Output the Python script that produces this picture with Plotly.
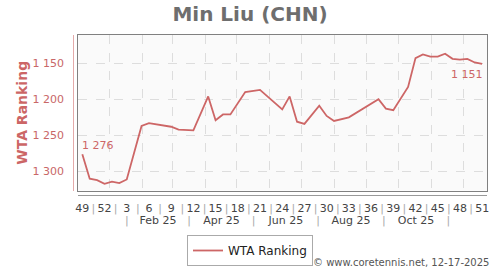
import datetime as dt
import plotly.graph_objects as go

# ---------------- data ----------------
start_date = dt.datetime(2024, 12, 6)
week_offset = [0, 1, 2, 3, 4, 5, 6, 8, 9, 10, 12, 13, 15, 17, 18, 19, 20, 22, 24, 27,
               28, 29, 30, 32, 33, 34, 36, 40, 41, 42, 44, 45, 46, 47, 48, 49, 50, 51, 52, 53, 54]
ranking = [1276, 1310, 1312, 1317, 1314, 1316, 1311, 1237, 1233, 1235, 1238, 1242, 1243, 1196,
           1229, 1221, 1221, 1190, 1187, 1214, 1196, 1231, 1234, 1209, 1223, 1230, 1225, 1200,
           1213, 1215, 1183, 1143, 1138, 1141, 1141, 1137, 1144, 1145, 1144, 1149, 1151]
week_tick_offsets = list(range(0, 55, 3))
week_tick_labels = ["49", "52", "3", "6", "9", "12", "15", "18", "21", "24", "27", "30",
                    "33", "36", "39", "42", "45", "48", "51"]
period_bounds = ["2025-01-17", "2025-03-17", "2025-05-17", "2025-07-17", "2025-09-17", "2025-11-17"]
period_labels = ["Feb 25", "Apr 25", "Jun 25", "Aug 25", "Oct 25"]
y_ticks = [1150, 1200, 1250, 1300]

# ---------------- helpers ----------------
def wk(o):
    return start_date + dt.timedelta(days=7 * o)

def fmt(v):
    return f"{v:,}".replace(",", " ")

dates = [wk(o) for o in week_offset]
x_range = [start_date - dt.timedelta(days=3.8), wk(54) + dt.timedelta(days=4.6)]
y_range = [1326.4, 1111]

LINE = "#cd6666"
FONT = "DejaVu Sans"
SEP = '<span style="color:#aaaaaa">|</span>'

# week row ticks with separators
wk_vals, wk_text = [], []
for k, (o, lab) in enumerate(zip(week_tick_offsets, week_tick_labels)):
    wk_vals.append(wk(o)); wk_text.append(lab)
    if k < len(week_tick_offsets) - 1:
        wk_vals.append(wk(o + 1.5)); wk_text.append(SEP)

# period row ticks
pb = [dt.datetime.fromisoformat(s) for s in period_bounds]
pr_vals, pr_text = [], []
for k, b in enumerate(pb):
    pr_vals.append(b); pr_text.append(SEP)
    if k < len(period_labels):
        pr_vals.append(b + (pb[k + 1] - b) / 2); pr_text.append(period_labels[k])

fig = go.Figure()
fig.add_trace(go.Scatter(x=dates, y=ranking, mode="lines", name="WTA Ranking",
                         line=dict(color=LINE, width=1.8), xaxis="x", yaxis="y"))
# invisible helpers for the overlay axes
fig.add_trace(go.Scatter(x=dates, y=ranking, mode="lines", showlegend=False, hoverinfo="skip",
                         line=dict(width=0), opacity=0, xaxis="x2", yaxis="y2"))
fig.add_trace(go.Scatter(x=dates, y=ranking, mode="lines", showlegend=False, hoverinfo="skip",
                         line=dict(width=0), opacity=0, xaxis="x3", yaxis="y2"))

W, H = 500, 270
ml, mr, mt, mb = 70, 13, 35, 75
pw, ph = W - ml - mr, H - mt - mb
xdom0 = 8.3 / pw
ydom0 = 4.4 / ph

fig.update_layout(
    width=W, height=H,
    margin=dict(l=ml, r=mr, t=mt, b=mb, pad=0, autoexpand=False),
    paper_bgcolor="white", plot_bgcolor="#fafafa",
    font=dict(family=FONT, size=11, color="#444"),
    title=dict(text="Min Liu (CHN)", x=0.5, xref="container", xanchor="center",
               y=1 - 13.5 / H, yref="container", yanchor="middle",
               font=dict(family=FONT, size=20, color="#6e6e6e", weight="bold")),
    xaxis=dict(type="date", domain=[xdom0, 1], anchor="y", range=x_range, automargin=False,
               showline=True, mirror=True, linecolor="#808080", linewidth=1,
               tickmode="linear", tick0="2025-01-01", dtick="M1",
               showticklabels=False, ticks="",
               showgrid=True, gridcolor="#dddddd", griddash="dash", gridwidth=1,
               zeroline=False),
    yaxis=dict(domain=[ydom0, 1], anchor="x", range=y_range, automargin=False,
               showline=True, mirror=True, linecolor="#808080", linewidth=1,
               tickvals=y_ticks, showticklabels=False, ticks="",
               showgrid=True, gridcolor="#dddddd", griddash="dash", gridwidth=1,
               zeroline=False),
    xaxis2=dict(type="date", overlaying="x", anchor="free", position=0, range=x_range,
                automargin=False,
                showline=True, linecolor="#999999", linewidth=1,
                tickmode="array", tickvals=wk_vals, ticktext=wk_text, ticks="",
                ticklabelstandoff=3,
                tickfont=dict(family=FONT, size=11, color="#444"),
                showgrid=False, zeroline=False),
    xaxis3=dict(type="date", overlaying="x", anchor="free", position=0, range=x_range,
                automargin=False, showline=False,
                tickmode="array", tickvals=pr_vals, ticktext=pr_text, ticks="",
                ticklabelstandoff=17,
                tickfont=dict(family=FONT, size=11, color="#444"),
                showgrid=False, zeroline=False),
    yaxis2=dict(overlaying="y", anchor="free", position=3.3 / pw, range=y_range,
                automargin=False,
                showline=True, linecolor="#e4aaaa", linewidth=1,
                tickvals=y_ticks, ticktext=[fmt(v) for v in y_ticks], ticks="",
                ticklabelstandoff=7,
                tickfont=dict(family=FONT, size=11, color="#c96767"),
                title=dict(text="WTA Ranking", standoff=0,
                           font=dict(family=FONT, size=14, color="#cc6666", weight="bold")),
                showgrid=False, zeroline=False),
    showlegend=True,
    legend=dict(orientation="h", x=0.5, xref="container", xanchor="center",
                y=1 - 235 / H, yref="container", yanchor="top",
                bordercolor="#aaaaaa", borderwidth=1, bgcolor="white",
                font=dict(family=FONT, size=12, color="#222")),
)

fig.add_annotation(x=dates[0], y=ranking[0], xref="x", yref="y", text=fmt(ranking[0]),
                   showarrow=False, xanchor="left", yanchor="bottom", yshift=0, xshift=-2,
                   font=dict(family=FONT, size=11, color=LINE))
fig.add_annotation(x=dates[-1], y=ranking[-1], xref="x", yref="y", text=fmt(ranking[-1]),
                   showarrow=False, xanchor="right", yanchor="top", yshift=-2, xshift=3,
                   font=dict(family=FONT, size=11, color=LINE))
fig.add_annotation(x=1, y=-(262.3 - (mt + ph)) / ph, xref="paper", yref="paper",
                   text="© www.coretennis.net, 12-17-2025", showarrow=False,
                   xanchor="right", yanchor="middle", xshift=4,
                   font=dict(family=FONT, size=10, color="#555"))

fig.write_html("out.html")
